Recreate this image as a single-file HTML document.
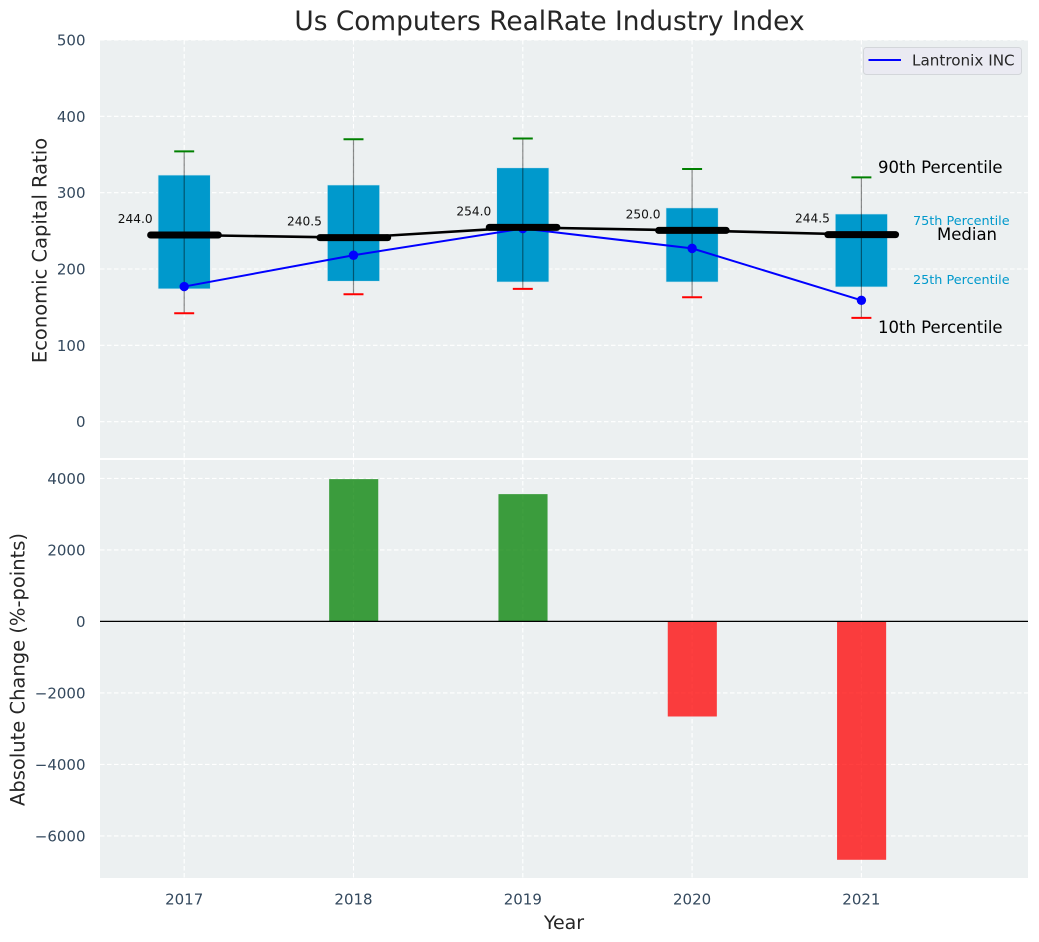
<!DOCTYPE html>
<html>
<head>
<meta charset="utf-8">
<title>Us Computers RealRate Industry Index</title>
<style>
html,body{margin:0;padding:0;background:#fff;}
svg{display:block;font-family:"DejaVu Sans","Liberation Sans",sans-serif;}
</style>
</head>
<body>
<svg id="chart" xmlns="http://www.w3.org/2000/svg" width="1039" height="942" viewBox="0 0 1039 942"></svg>
<script>
const years = [2017, 2018, 2019, 2020, 2021];
const p90 = [354, 370, 371, 331, 320];
const p75 = [323, 310, 332.5, 280, 272];
const medians = [244.0, 240.5, 254.0, 250.0, 244.5];
const p25 = [174, 184, 183, 183, 176.5];
const p10 = [142, 167, 174, 163, 136];
const lantronix = [177, 218, 253, 227, 159];
const absChange = [0, 3980, 3560, -2660, -6668];
const topTicks = [0, 100, 200, 300, 400, 500];
const bottomTicks = [-6000, -4000, -2000, 0, 2000, 4000];

const svg = document.getElementById('chart');
const NS = 'http://www.w3.org/2000/svg';
const L = 100, R = 1028;
const T1 = 40, B1 = 458, T2 = 460, B2 = 878;

function xPos(v) { return 184.2 + (v - 2017) * 169.3; }
function yTop(v) { return 421.7 - v * 0.7635; }
function yBot(v) { return 621.4 - v * 0.03575; }
function fmtTick(v) { return v < 0 ? '\u2212' + Math.abs(v) : String(v); }

function make(tag, props) {
  const el = document.createElementNS(NS, tag);
  for (const k in props) el.setAttribute(k, props[k]);
  svg.appendChild(el);
  return el;
}
function label(str, x, y, size, fill, anchor) {
  const el = make('text', { x: x, y: y, 'font-size': size, fill: fill, 'text-anchor': anchor || 'start', 'dominant-baseline': 'central' });
  el.textContent = str;
  return el;
}

/* panels */
let el = make('rect', { x: L, y: T1, width: R - L, height: B1 - T1, fill: '#ecf0f1' });


el = make('rect', { x: L, y: T2, width: R - L, height: B2 - T2, fill: '#ecf0f1' });



/* grid */
const gridStyle = { stroke: '#ffffff', 'stroke-width': 1.1, 'stroke-dasharray': '4.5 2.5' };
topTicks.forEach(function (t) {
  const g = make('line', Object.assign({ x1: L, x2: R, y1: yTop(t), y2: yTop(t) }, gridStyle));
  
  
  const tl = label(String(t), 85.5, yTop(t) + 0.5, 15, '#34495e', 'end');
  
  
});
bottomTicks.forEach(function (t) {
  const g = make('line', Object.assign({ x1: L, x2: R, y1: yBot(t), y2: yBot(t) }, gridStyle));
  
  
  const tl = label(fmtTick(t), 85.5, yBot(t) + 0.5, 15, '#34495e', 'end');
  
  
});
years.forEach(function (y) {
  const a = make('line', Object.assign({ x1: xPos(y), x2: xPos(y), y1: T1, y2: B1 }, gridStyle));
  
  
  const b = make('line', Object.assign({ x1: xPos(y), x2: xPos(y), y1: T2, y2: B2 }, gridStyle));
  
  
  const tl = label(String(y), xPos(y), 899.5, 15, '#34495e', 'middle');
  
  
});

/* boxes */
const boxW = 0.308, capW = 0.118, medW = 0.40;
years.forEach(function (y, i) {
  const cx = xPos(y);
  const box = make('rect', {
    x: xPos(y - boxW / 2), width: xPos(y + boxW / 2) - xPos(y - boxW / 2),
    y: yTop(p75[i]), height: yTop(p25[i]) - yTop(p75[i]),
    fill: '#0099cc', stroke: '#cfe6ee', 'stroke-width': 0.6
  });
  
  
  const wh = make('line', { x1: cx, x2: cx, y1: yTop(p90[i]), y2: yTop(p10[i]), stroke: '#000', 'stroke-opacity': 0.45, 'stroke-width': 1.2 });
  
  
  const c1 = make('line', { x1: xPos(y - capW / 2), x2: xPos(y + capW / 2), y1: yTop(p90[i]), y2: yTop(p90[i]), stroke: '#008000', 'stroke-width': 2 });
  
  
  const c2 = make('line', { x1: xPos(y - capW / 2), x2: xPos(y + capW / 2), y1: yTop(p10[i]), y2: yTop(p10[i]), stroke: '#ff0000', 'stroke-width': 2 });
  
  
});

/* lantronix line under median markers */
const lanLine = make('polyline', {
  points: years.map(function (y, i) { return xPos(y) + ',' + yTop(lantronix[i]); }).join(' '),
  fill: 'none', stroke: '#0000ff', 'stroke-width': 2
});


years.forEach(function (y, i) {
  const p = make('circle', { cx: xPos(y), cy: yTop(lantronix[i]), r: 4.7, fill: '#0000ff' });
  
  
});

/* median trend */
const medLine = make('polyline', {
  points: years.map(function (y, i) { return xPos(y) + ',' + (yTop(medians[i]) - 0.4); }).join(' '),
  fill: 'none', stroke: '#000', 'stroke-width': 2.6
});


years.forEach(function (y, i) {
  const my = yTop(medians[i]) - 0.4;
  const m = make('line', {
    x1: xPos(y - medW / 2) + 0.3, x2: xPos(y + medW / 2) + 0.3,
    y1: my, y2: my,
    stroke: '#000', 'stroke-width': 7, 'stroke-linecap': 'round'
  });
  
  
  const t = label(medians[i].toFixed(1), xPos(y) - 49, my - 16, 12.2, '#111', 'middle');
  
  
});

/* percentile annotations */
el = label('90th Percentile', 878, 167.5, 16.5, '#000');


el = label('75th Percentile', 913, 221.5, 12.8, '#0099cc');


el = label('Median', 937, 234.5, 16.5, '#000');


el = label('25th Percentile', 913, 280.5, 12.8, '#0099cc');


el = label('10th Percentile', 878, 327.5, 16.5, '#000');



/* legend */
el = make('rect', { x: 863.5, y: 47.5, width: 158, height: 27, rx: 3, fill: '#eaeaf2', stroke: '#d3d6da', 'stroke-width': 1 });


el = make('line', { x1: 868.5, x2: 901, y1: 60, y2: 60, stroke: '#0000ff', 'stroke-width': 2 });


el = label('Lantronix INC', 912, 60.5, 15.2, '#262626');



/* absolute change bars */
const barW = 0.29;
years.forEach(function (y, i) {
  const v = absChange[i];
  if (v === 0) return;
  const b = make('rect', {
    x: xPos(y - barW / 2) + 0.2, width: xPos(y + barW / 2) - xPos(y - barW / 2),
    y: Math.min(yBot(v), yBot(0)), height: Math.abs(yBot(v) - yBot(0)),
    fill: v > 0 ? '#008000' : '#ff0000', 'fill-opacity': 0.75
  });
  
  
});
el = make('line', { x1: L, x2: R, y1: yBot(0), y2: yBot(0), stroke: '#000', 'stroke-width': 1.2 });



/* titles */
el = label('Us Computers RealRate Industry Index', 549.5, 21.5, 26.4, '#262626', 'middle');


el = label('Year', 564, 923, 19, '#262626', 'middle');


el = label('Economic Capital Ratio', 40, 250.5, 19.5, '#262626', 'middle');
el.setAttribute('transform', 'rotate(-90 40 250.5)');


el = label('Absolute Change (%-points)', 18, 669.5, 19.5, '#262626', 'middle');
el.setAttribute('transform', 'rotate(-90 18 669.5)');


</script>
</body>
</html>
